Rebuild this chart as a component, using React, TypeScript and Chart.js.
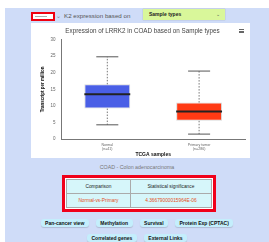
import React, { useEffect, useRef } from "react";
import { Chart, registerables } from "chart.js";
Chart.register(...registerables);

const categories = [["Normal", "(n=41)"], ["Primary tumor", "(n=286)"]];
const whiskerMin = [4.3, 1.5];
const q1 = [9.2, 5.5];
const median = [13.5, 8.3];
const q3 = [16.5, 11.0];
const whiskerMax = [24.8, 20.5];
const boxColors = ["#4a5fe6", "#ff3a14"];
const yTicks = [0, 5, 10, 15, 20, 25, 30];
const chartTitle = "Expression of LRRK2 in COAD based on Sample types";
const buttonsRow1 = ["Pan-cancer view", "Methylation", "Survival", "Protein Exp (CPTAC)"];
const buttonsRow2 = ["Correlated genes", "External Links"];

const boxPlugin = {
  id: "boxWhiskers",
  afterDatasetsDraw(chart: any) {
    const ctx = chart.ctx;
    const meta = chart.getDatasetMeta(0);
    const y = chart.scales.y;
    meta.data.forEach((bar: any, i: number) => {
      const x = bar.x;
      const half = bar.width / 2;
      const cap = bar.width * 0.24;
      ctx.save();
      ctx.strokeStyle = "#777";
      ctx.lineWidth = 1;
      ctx.setLineDash([1.5, 1.5]);
      ctx.beginPath();
      ctx.moveTo(x, y.getPixelForValue(q3[i]));
      ctx.lineTo(x, y.getPixelForValue(whiskerMax[i]));
      ctx.moveTo(x, y.getPixelForValue(q1[i]));
      ctx.lineTo(x, y.getPixelForValue(whiskerMin[i]));
      ctx.stroke();
      ctx.setLineDash([]);
      ctx.strokeStyle = "#555";
      ctx.beginPath();
      ctx.moveTo(x - cap, y.getPixelForValue(whiskerMax[i]));
      ctx.lineTo(x + cap, y.getPixelForValue(whiskerMax[i]));
      ctx.moveTo(x - cap, y.getPixelForValue(whiskerMin[i]));
      ctx.lineTo(x + cap, y.getPixelForValue(whiskerMin[i]));
      ctx.stroke();
      ctx.strokeStyle = "#222";
      ctx.lineWidth = 2;
      ctx.beginPath();
      ctx.moveTo(x - half, y.getPixelForValue(median[i]));
      ctx.lineTo(x + half, y.getPixelForValue(median[i]));
      ctx.stroke();
      ctx.restore();
    });
  },
};

function BoxChart() {
  const ref = useRef<HTMLCanvasElement>(null);
  useEffect(() => {
    if (!ref.current) return;
    const chart = new Chart(ref.current, {
      type: "bar",
      data: {
        labels: categories as any,
        datasets: [
          {
            data: q1.map((v, i) => [v, q3[i]]) as any,
            backgroundColor: boxColors,
            borderColor: boxColors.map(() => "rgba(0,0,0,0.15)"),
            borderWidth: 1,
            borderSkipped: false,
            categoryPercentage: 1,
            barPercentage: 0.5,
          },
        ],
      },
      options: {
        animation: false,
        responsive: false,
        layout: { padding: { left: 9, right: 5, top: 0, bottom: 0 } },
        plugins: {
          legend: { display: false },
          tooltip: { enabled: false },
          title: {
            display: true,
            text: chartTitle,
            color: "#444",
            font: { family: "Arial, Liberation Sans", size: 6.3, weight: "normal" },
            padding: { top: 4, bottom: 5 },
          },
        },
        scales: {
          y: {
            min: 0,
            max: 30,
            afterBuildTicks: (s: any) => {
              s.ticks = yTicks.map((v) => ({ value: v }));
            },
            ticks: { color: "#666", font: { family: "Arial, Liberation Sans", size: 4.5 }, padding: 3 },
            grid: { display: false, drawTicks: true, tickLength: 3, tickColor: "#777" },
            border: { color: "#777", width: 1 },
            title: {
              display: true,
              text: "Transcript per million",
              color: "#111",
              font: { family: "Arial, Liberation Sans", size: 4.5, weight: "bold" },
              padding: { top: 0, bottom: 2 },
            },
          },
          x: {
            ticks: { color: "#666", font: { family: "Arial, Liberation Sans", size: 3.6, lineHeight: 1.1 }, padding: 1, maxRotation: 0 },
            grid: { display: false, tickLength: 3, tickColor: "#777" },
            border: { color: "#777", width: 1 },
            title: {
              display: true,
              text: "TCGA samples",
              color: "#111",
              font: { family: "Arial, Liberation Sans", size: 5, weight: "bold" },
              padding: { top: 0, bottom: 0 },
            },
          },
        },
      },
      plugins: [boxPlugin],
    });
    return () => chart.destroy();
  }, []);
  return <canvas ref={ref} width={219} height={135} style={{ display: "block" }} />;
}

const btn: React.CSSProperties = {
  display: "inline-block",
  background: "#c4eefc",
  borderRadius: 3,
  boxShadow: "0 1px 1px rgba(0,0,0,0.15)",
  fontFamily: "Arial, Liberation Sans",
  fontWeight: "bold",
  fontSize: 5,
  color: "#111",
  padding: "0 4.5px",
  height: 8,
  lineHeight: "8px",
  margin: "0 3.5px",
  whiteSpace: "nowrap",
};

export default function App() {
  return (
    <div style={{ position: "absolute", left: 0, top: 0, width: 269, height: 242, background: "#fff", overflow: "hidden" }}>
      <div style={{ position: "absolute", left: 5, top: 8, width: 264, height: 234, background: "#cfdcf8" }} />
      {/* top bar */}
      <div style={{ position: "absolute", left: 31, top: 12, width: 24, height: 9, boxSizing: "border-box", border: "2.5px solid #f00010", background: "#fff" }}>
        <div style={{ position: "absolute", left: 2, top: 2, width: 12, height: 1, background: "#aaa" }} />
      </div>
      <div style={{ position: "absolute", left: 56, top: 12, fontFamily: "Arial, Liberation Sans", fontSize: 5.5, color: "#888", lineHeight: "9px" }}>⌄</div>
      <div style={{ position: "absolute", left: 64, top: 11, fontFamily: "Arial, Liberation Sans", fontSize: 6.2, color: "#555", lineHeight: "9px", whiteSpace: "nowrap" }}>K2 expression based on</div>
      <div style={{ position: "absolute", left: 143, top: 9, width: 82, height: 11, background: "#d9f79a", boxShadow: "0 0 1px rgba(0,0,0,0.3)", fontFamily: "Arial, Liberation Sans", fontSize: 5, fontWeight: "bold", color: "#222", lineHeight: "11px", boxSizing: "border-box", paddingLeft: 6 }}>
        Sample types
        <span style={{ position: "absolute", right: 5, top: 0, fontWeight: "normal", color: "#555" }}>⌄</span>
      </div>
      {/* chart panel */}
      <div style={{ position: "absolute", left: 31, top: 23, width: 219, height: 135, background: "#fff" }}>
        <BoxChart />
        <div style={{ position: "absolute", left: 208, top: 6, width: 5, height: 4 }}>
          <div style={{ height: 1, background: "#666", marginBottom: 0.5 }} />
          <div style={{ height: 1, background: "#666", marginBottom: 0.5 }} />
          <div style={{ height: 1, background: "#666" }} />
        </div>
      </div>
      <div style={{ position: "absolute", left: 5, width: 264, top: 163, textAlign: "center", fontFamily: "Arial, Liberation Sans", fontSize: 5.3, color: "#777", lineHeight: "8px" }}>
        COAD - Colon adenocarcinoma
      </div>
      {/* table */}
      <div style={{ position: "absolute", left: 62, top: 175, width: 154, height: 37, boxSizing: "border-box", border: "3px solid #f0001a", background: "#fff", padding: 1 }}>
        <table style={{ borderCollapse: "collapse", width: "100%", height: "100%", background: "#d6f6fa", fontFamily: "Arial, Liberation Sans", fontSize: 4.8 }}>
          <tbody>
            <tr>
              <td style={{ border: "1px solid #aaa", textAlign: "center", width: "44%", color: "#222", padding: 0 }}>Comparison</td>
              <td style={{ border: "1px solid #aaa", textAlign: "center", color: "#222", padding: 0 }}>Statistical significance</td>
            </tr>
            <tr>
              <td style={{ border: "1px solid #aaa", textAlign: "center", color: "#e5501a", padding: 0 }}>Normal-vs-Primary</td>
              <td style={{ border: "1px solid #aaa", textAlign: "center", color: "#e5501a", padding: 0 }}>4.36679000015964E-06</td>
            </tr>
          </tbody>
        </table>
      </div>
      {/* buttons */}
      <div style={{ position: "absolute", left: 5, width: 264, top: 216, textAlign: "center", lineHeight: "8px" }}>
        {buttonsRow1.map((b) => (
          <span key={b} style={btn}>{b}</span>
        ))}
      </div>
      <div style={{ position: "absolute", left: 5, width: 264, top: 231, textAlign: "center", lineHeight: "8px" }}>
        {buttonsRow2.map((b) => (
          <span key={b} style={btn}>{b}</span>
        ))}
      </div>
    </div>
  );
}
